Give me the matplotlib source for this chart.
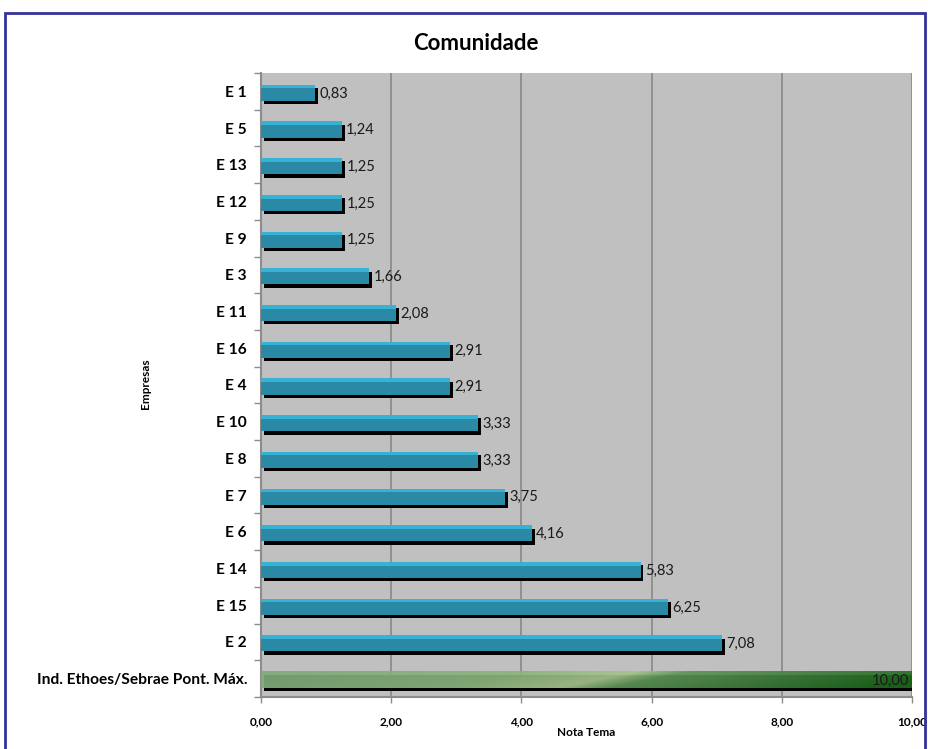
import numpy as np
import matplotlib
matplotlib.use("Agg")
import matplotlib.pyplot as plt
from matplotlib.colors import LinearSegmentedColormap
from matplotlib.patches import Rectangle

plt.rcParams['font.family'] = ['Lato', 'DejaVu Sans']

empresas = ['E 1', 'E 5', 'E 13', 'E 12', 'E 9', 'E 3', 'E 11', 'E 16', 'E 4',
            'E 10', 'E 8', 'E 7', 'E 6', 'E 14', 'E 15', 'E 2']
notas = [0.83, 1.24, 1.25, 1.25, 1.25, 1.66, 2.08, 2.91, 2.91,
         3.33, 3.33, 3.75, 4.16, 5.83, 6.25, 7.08]
ref_label = 'Ind. Ethoes/Sebrae Pont. Máx.'
ref_nota = 10.00
xticks = [0, 2, 4, 6, 8, 10]

labels = empresas + [ref_label]
ypos = np.arange(len(labels))

fig = plt.figure(figsize=(9.29, 7.49), dpi=100)
ax = fig.add_axes([261 / 929, 1 - 697 / 749, 651 / 929, 624 / 749])
ax.set_facecolor('#c0c0c0')

h = 0.44
dx, dy = 0.045, 0.09
yc = ypos + 0.04

# company bars: black drop shadow, teal body, light top stripe
ax.barh(yc[:-1] + dy, notas, left=dx, height=h, color='black', zorder=2)
ax.barh(yc[:-1], notas, height=h, color='#2a8aa6', zorder=3)
ax.barh(yc[:-1] - h / 2 + 0.05, notas, height=0.1, color='#38b2d4', zorder=3)

for y, v in zip(yc[:-1], notas):
    ax.text(v + dx + 0.02, y + 0.02, f'{v:.2f}'.replace('.', ','), va='center',
            ha='left', fontsize=10.5, color='#1a1a1a', zorder=5)

# reference bar with green gradient
yr = yc[-1]
ax.barh(yr + dy, ref_nota, left=dx, height=h, color='black', zorder=2)
gx = np.linspace(0, 1, 300)
gy = np.linspace(0, 1, 20)
GX, GY = np.meshgrid(gx, gy)
t = np.clip(GX + 0.12 * (GY - 0.5), 0, 1)
cmap = LinearSegmentedColormap.from_list('verde', [
    (0.0, '#7eab79'), (0.35, '#8cb47e'), (0.52, '#a6c48c'),
    (0.6, '#5d9458'), (0.8, '#3f7d3c'), (1.0, '#1d691c')])
ax.imshow(t, cmap=cmap, extent=(0, ref_nota, yr - h / 2, yr + h / 2),
          origin='lower', aspect='auto', zorder=3, alpha=0.92,
          interpolation='bilinear')
ax.text(ref_nota - 0.04, yr + 0.02, f'{ref_nota:.2f}'.replace('.', ','),
        va='center', ha='right', fontsize=10.5, color='#1a1a1a', zorder=5)

ax.set_xlim(0, 10)
ax.set_ylim(len(labels) - 0.5, -0.5)

ax.set_xticks(xticks)
ax.set_xticklabels([f'{x:.2f}'.replace('.', ',') for x in xticks],
                   fontsize=8.5, fontweight='bold')
ax.set_yticks(ypos)
ax.set_yticklabels(labels, fontsize=11.2, fontweight='bold')
ax.set_yticks(np.arange(-0.5, len(labels)), minor=True)
ax.tick_params(axis='y', which='major', length=0, pad=10)
ax.tick_params(axis='y', which='minor', length=5, color='#8c8c8c', width=1)
ax.tick_params(axis='x', length=4, color='#8c8c8c', width=1, pad=10)

ax.grid(axis='x', color='#8c8c8c', linewidth=1.3, zorder=1)
ax.set_axisbelow(True)
for s in ['top', 'right']:
    ax.spines[s].set_visible(False)
ax.spines['left'].set_color('#8c8c8c')
ax.spines['bottom'].set_color('#8c8c8c')
ax.spines['left'].set_linewidth(1.5)
ax.spines['bottom'].set_linewidth(1.5)

ax.set_xlabel('Nota Tema', fontsize=8.5, fontweight='bold', labelpad=0)
fig.text(145 / 929, 1 - 384 / 749, 'Empresas', rotation=90, fontsize=8.5,
         fontweight='bold', ha='center', va='center')
fig.text(476 / 929, 1 - 43 / 749, 'Comunidade', fontsize=16, fontweight='bold',
         ha='center', va='center')

# outer frame
fig.add_artist(Rectangle((5 / 929, -0.05), 920 / 929, 1 - 13 / 749 + 0.05,
                         transform=fig.transFigure, fill=False,
                         edgecolor='#333399', linewidth=2))

fig.savefig('out.png', dpi=100)
